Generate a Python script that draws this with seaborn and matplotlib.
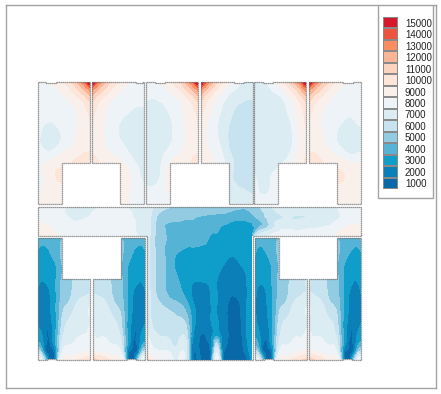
import numpy as np
import seaborn as sns
import matplotlib.pyplot as plt
import matplotlib.tri as mtri

from matplotlib.colors import ListedColormap
from matplotlib.patches import Polygon, Rectangle

# legend
LEGEND_VALUES = [1000, 2000, 3000, 4000, 5000, 6000, 7000, 8000, 9000, 10000, 11000, 12000, 13000, 14000, 15000]
LEGEND_COLORS = ['#0868a8', '#0a7fb8', '#0f9dca', '#55b4d6', '#92cbe2', '#c6e3ef', '#dcecf3', '#edf3f6',
                 '#faf0eb', '#fee5d9', '#fdd3bd', '#fcb497', '#fc8d62', '#ee5340', '#d7152b']

# all fields below are in thousands
# upper rooms: rows go down from the ceiling, columns go away from the hot corner
TOP_DIST = [0, 3, 7, 12, 20, 30, 40, 52]
TOP_DEPTH = [0, 3, 8, 15, 25, 40, 55, 70, 81, 95, 110, 122]

TOP_1 = [[16, 14.5, 13.2, 11.7, 10.4, 9.2, 8.5, 8.3],
         [14.5, 13.5, 12.2, 11.2, 9.9, 8.9, 8.4, 8.2],
         [12.8, 12, 11.2, 10.4, 9.4, 8.6, 8.1, 8],
         [11.2, 10.7, 10, 9.5, 8.8, 8.2, 7.9, 8],
         [10, 9.7, 9.2, 8.8, 8.2, 7.8, 7.7, 7.9],
         [9.5, 9.2, 8.9, 8.5, 8, 7.7, 7.5, 7.8],
         [9.3, 9.2, 9, 8.7, 8.1, 7.4, 6.8, 7.7],
         [9.5, 9.5, 9.4, 9.1, 8.7, 8.2, 7.6, 7.9],
         [10, 10, 10, 9.8, 9.4, 9.1, 8.7, 8.2],
         [9.3, 9.3, 9.3, 9.3, 9.2, 9.7, 8.9, 8.2],
         [9, 9, 9, 9, 9, 9, 8.8, 8.3],
         [8.8, 8.8, 8.8, 8.8, 8.8, 9, 8.8, 8.5]]
TOP_2 = [[16, 14.5, 13.2, 11.7, 10.4, 9.1, 8.4, 8.2],
         [14.5, 13.5, 12.2, 11.2, 9.9, 8.8, 8.3, 8.1],
         [12.8, 12, 11.2, 10.4, 9.3, 8.5, 8.1, 8],
         [11.2, 10.7, 10, 9.5, 8.7, 8.1, 7.9, 7.8],
         [10, 9.7, 9.2, 8.8, 8.1, 7.8, 7.6, 7.5],
         [9.6, 9.3, 8.9, 8.5, 8, 7.4, 7, 6.9],
         [9.3, 9.1, 8.9, 8.5, 8, 7.3, 6.7, 6.6],
         [9.4, 9.3, 9.1, 8.8, 8.4, 8, 7.2, 6.8],
         [9.8, 9.7, 9.5, 9.2, 8.9, 8.6, 7.8, 7.2],
         [9.3, 9.3, 9.3, 9.3, 9.5, 9.2, 8.3, 7.2],
         [9, 9, 9, 9, 9, 9, 8.3, 8],
         [8.7, 8.7, 8.7, 8.7, 8.8, 8.8, 8.4, 8.2]]
TOP_3 = [[16, 14.5, 13.2, 11.7, 10.4, 9.1, 8.5, 8.1],
         [14.5, 13.5, 12.2, 11.2, 9.9, 8.8, 8.2, 8],
         [12.8, 12, 11.2, 10.4, 9.3, 8.5, 8, 7.9],
         [11.2, 10.7, 10, 9.5, 8.6, 8, 7.7, 7.7],
         [10, 9.7, 9.2, 8.8, 8.1, 7.6, 7.2, 7.2],
         [9.6, 9.3, 9, 8.6, 8, 7.2, 6.8, 6.9],
         [9.3, 9.2, 8.9, 8.5, 7.9, 7.1, 6.7, 6.8],
         [9.4, 9.3, 9.1, 8.8, 8.3, 7.7, 6.9, 6.9],
         [9.9, 9.8, 9.5, 9.2, 8.9, 8.3, 7.1, 7],
         [9.2, 9.2, 9.2, 9.2, 9, 8.7, 7.3, 7.1],
         [8.8, 8.8, 8.8, 8.8, 8.8, 8.5, 8, 7.8],
         [8.5, 8.5, 8.5, 8.5, 8.5, 8.3, 8, 8]]
TOP_4 = [[16, 14.3, 13, 11.4, 9.9, 8.5, 7.6, 6.9],
         [14.5, 13.4, 12, 11, 9.4, 8.2, 7.4, 6.8],
         [12.8, 11.9, 11, 10, 8.9, 7.7, 7.2, 6.8],
         [11.1, 10.5, 9.8, 9.2, 8.1, 7.2, 6.8, 6.6],
         [10, 9.6, 9.1, 8.5, 7.6, 6.8, 6.3, 6.2],
         [9.2, 8.9, 8.5, 8, 7.2, 6.4, 5.7, 5.7],
         [9, 8.7, 8.3, 7.9, 7.2, 6.2, 5.6, 5.7],
         [9.2, 9, 8.7, 8.3, 7.6, 6.4, 5.8, 5.8],
         [9.5, 9.3, 9, 8.6, 7.9, 6.8, 6, 5.9],
         [8, 8, 8, 8, 7.6, 6.6, 6.2, 6],
         [7, 7, 7, 7, 7, 6.9, 6.6, 6.4],
         [6.8, 6.8, 6.8, 6.8, 6.8, 6.8, 6.8, 6.7]]
TOP_5 = [[16, 14.5, 13.2, 11.6, 10.1, 8.7, 7.6, 7.2],
         [14.5, 13.5, 12.1, 11, 9.5, 8.3, 7.3, 7],
         [12.8, 12, 11, 10.1, 8.9, 7.8, 7, 6.9],
         [11.2, 10.6, 9.9, 9.2, 8, 7.2, 6.9, 6.8],
         [10, 9.6, 9.1, 8.5, 7.5, 6.9, 6.8, 6.8],
         [9.6, 9.3, 8.8, 8, 7.1, 6.8, 6.7, 6.8],
         [9.3, 9, 8.5, 7.7, 6.9, 6.7, 6.7, 6.8],
         [9.3, 9.2, 8.8, 8, 7.1, 6.8, 6.7, 6.8],
         [9.5, 9.4, 9.1, 8.5, 7.7, 7.2, 6.9, 7.1],
         [8.5, 8.5, 8.5, 8.5, 8.2, 7.8, 7.3, 7.6],
         [8.2, 8.2, 8.2, 8.2, 8, 8, 7.4, 7.8],
         [8.2, 8.2, 8.2, 8.2, 8.2, 8.2, 8.2, 8]]
TOP_6 = [[16, 14.5, 13.2, 11.7, 10.4, 9, 8.4, 8.1],
         [14.5, 13.5, 12.2, 11.2, 9.9, 8.8, 8.3, 8],
         [12.8, 12, 11.2, 10.4, 9.3, 8.5, 8.1, 7.9],
         [11.2, 10.7, 10, 9.5, 8.7, 8.1, 7.9, 7.8],
         [10, 9.7, 9.2, 8.8, 8.2, 7.8, 7.6, 7.8],
         [9.5, 9.2, 8.9, 8.5, 8, 7.6, 7.4, 7.7],
         [9.3, 9.2, 9, 8.7, 8.1, 7.3, 6.8, 7],
         [9.5, 9.5, 9.4, 9.1, 8.7, 8, 7.3, 7.5],
         [9.9, 9.9, 9.8, 9.6, 9.3, 9, 8.6, 8.6],
         [9.3, 9.3, 9.3, 9.3, 9.2, 9.7, 9.1, 8.9],
         [9, 9, 9, 9, 9, 9.1, 9, 9],
         [9.2, 9.2, 9.2, 9.2, 9.2, 9.2, 9.2, 9.2]]

# lower rooms: columns go away from the outer wall, rows go down the page
LOW_DIST = [0, 4, 8, 12, 16, 20, 24, 30, 37, 44, 52]
LOW_Y = [238, 250, 265, 279, 290, 305, 320, 335, 345, 352, 356, 360]

LOW_A = [[4.4, 4, 4, 4, 4, 4.2, 4.5, 5, 5, 5, 5],
         [3.4, 3.2, 3.3, 3.6, 4, 4.2, 4.8, 5, 5, 5, 5],
         [3, 2.8, 2.8, 3, 3.3, 3.8, 4.5, 5, 5, 5, 5],
         [2.8, 2.6, 2.7, 2.9, 3.2, 3.9, 4.6, 5, 5.7, 6.1, 6.6],
         [2.4, 2, 2.1, 2.6, 3.2, 3.9, 4.7, 5.1, 5.8, 6.2, 6.5],
         [2.2, 1.7, 1.8, 2.4, 3.1, 4, 5, 5.6, 6.4, 7, 7.5],
         [2.3, 1.7, 1.7, 2.2, 3, 4.1, 5.6, 6.5, 6.9, 7.2, 7.5],
         [3, 2.5, 1.6, 1.7, 3, 4.5, 6.2, 6.9, 7.2, 7.5, 7.8],
         [4, 3, 1.4, 1.4, 2.6, 4.6, 6.8, 7.5, 7.7, 7.9, 8],
         [6, 4.5, 1.6, 1.2, 1.5, 4.5, 7.5, 8, 8.1, 8.3, 8.6],
         [7.5, 6, 3, 1, 1.2, 5, 8, 8.5, 8.6, 9, 9.6],
         [8.2, 7.5, 4, 1, 1, 6, 8.6, 9, 9.3, 9.8, 10.5]]
LOW_B = [[4.5, 4.1, 4, 4, 4.1, 4.3, 4.6, 5, 5, 5, 5],
         [3.5, 3.2, 3.3, 3.6, 4, 4.3, 4.8, 5, 5, 5, 5],
         [3, 2.8, 2.8, 3, 3.4, 3.9, 4.6, 5, 5, 5, 5],
         [2.8, 2.6, 2.7, 2.9, 3.3, 4, 4.7, 5, 5.7, 6.1, 6.6],
         [2.5, 2.1, 2.2, 2.6, 3.2, 4, 4.8, 5.2, 5.8, 6.2, 6.5],
         [2.2, 1.7, 1.8, 2.4, 3.1, 4.1, 5, 5.6, 6.4, 7, 7.4],
         [2.3, 1.7, 1.7, 2.2, 3, 4.2, 5.6, 6.5, 6.9, 7.1, 7.4],
         [3, 2.5, 1.6, 1.7, 3, 4.5, 6.2, 6.9, 7.2, 7.4, 7.7],
         [4, 3, 1.4, 1.4, 2.6, 4.6, 6.8, 7.5, 7.7, 7.8, 8],
         [6, 4.5, 1.6, 1.2, 1.5, 4.5, 7.5, 8, 8.2, 8.5, 9],
         [7.5, 6, 3, 1, 1.2, 5, 8, 8.6, 8.9, 9.5, 10.2],
         [8.2, 7.5, 4, 1, 1, 6, 8.6, 9.2, 9.7, 10.3, 11]]
LOW_C = [[4.5, 4, 4, 4, 4.1, 4.3, 4.6, 5, 5, 5, 5],
         [3.7, 3.3, 3.4, 3.7, 4, 4.3, 4.8, 5, 5, 5, 5],
         [3.3, 2.9, 2.9, 3.1, 3.5, 4, 4.6, 5, 5, 5, 5],
         [3, 2.7, 2.7, 3, 3.4, 4, 4.7, 5, 5.7, 6.1, 6.6],
         [2.8, 2.3, 2.3, 2.7, 3.3, 4, 4.8, 5.2, 5.8, 6.2, 6.5],
         [2.6, 2, 2, 2.5, 3.2, 4.1, 5.1, 5.6, 6.4, 7, 7.4],
         [2.7, 2.2, 2, 2.3, 3.1, 4.2, 5.7, 6.5, 6.9, 7.1, 7.4],
         [3.3, 2.7, 1.8, 1.8, 3, 4.5, 6.2, 6.9, 7.2, 7.4, 7.7],
         [4.3, 3.2, 1.5, 1.4, 2.6, 4.6, 6.8, 7.5, 7.7, 7.8, 8],
         [6, 4.5, 1.7, 1.3, 1.5, 4.5, 7.5, 8, 8.2, 8.5, 8.9],
         [7.5, 6, 3, 1.1, 1.2, 5, 8, 8.6, 8.9, 9.4, 10],
         [8.2, 7.5, 4, 1, 1, 6, 8.6, 9.2, 9.6, 10.2, 10.8]]
LOW_D = [[4.6, 4.2, 4, 4, 4.1, 4.3, 4.6, 5, 5, 5, 5],
         [3.6, 3.3, 3.4, 3.7, 4, 4.3, 4.8, 5, 5, 5, 5],
         [3.1, 2.8, 2.8, 3, 3.4, 3.9, 4.6, 5, 5, 5, 5],
         [2.9, 2.6, 2.6, 2.9, 3.3, 4, 4.7, 5, 5.7, 6.1, 6.6],
         [2.6, 2.1, 2.2, 2.6, 3.2, 4, 4.8, 5.2, 5.8, 6.2, 6.5],
         [2.3, 1.8, 1.8, 2.4, 3.1, 4.1, 5.1, 5.6, 6.4, 7, 7.4],
         [2.4, 1.8, 1.7, 2.2, 3, 4.2, 5.7, 6.5, 6.9, 7.1, 7.4],
         [3, 2.5, 1.6, 1.7, 3, 4.5, 6.2, 6.9, 7.2, 7.4, 7.7],
         [4, 3, 1.4, 1.4, 2.6, 4.6, 6.8, 7.5, 7.7, 7.8, 8],
         [6, 4.5, 1.6, 1.2, 1.5, 4.5, 7.5, 8, 8.2, 8.5, 9],
         [7.5, 6, 3, 1, 1.2, 5, 8, 8.6, 8.9, 9.5, 10.2],
         [8.2, 7.5, 4, 1, 1, 6, 8.6, 9.2, 9.7, 10.3, 11]]

# corridor and the big central room
WING_Y = [207, 212, 218, 225, 236]
WING_LEFT_X = [38, 50, 60, 72, 85, 95, 110, 125, 135, 147]
WING_LEFT = [[8, 8, 7.9, 7.2, 7.2, 7.3, 7.8, 7.6, 7.2, 7],
             [8, 8, 7.8, 7.1, 7.1, 7.6, 7.9, 7.8, 7.3, 6.8],
             [8.2, 8, 8, 7.3, 7.4, 7.9, 8, 8, 7.4, 6.9],
             [8.8, 8.4, 8, 7.8, 7.9, 8, 8, 8, 7.5, 7],
             [9.5, 9.1, 8.4, 8, 8, 8, 8, 7.9, 7.6, 7]]
WING_RIGHT_X = [252, 255, 262, 275, 290, 310, 330, 345, 361]
WING_RIGHT = [[4.8, 5.2, 5.6, 6.8, 7, 7, 7.2, 7.8, 8],
              [4.6, 4.9, 5.4, 6.4, 6.7, 6.7, 7, 7.8, 8],
              [3.9, 4.3, 5, 6.2, 6.5, 6.6, 7, 7.8, 8],
              [3.4, 3.8, 4.5, 6.5, 7, 7.2, 7.5, 8.3, 8.6],
              [3.2, 6, 6.8, 7.8, 8, 8.1, 8.2, 9, 9.5]]

HALL_X = [147, 150, 155, 162, 170, 178, 188, 191, 195, 203, 210, 214, 217, 220, 224, 232, 240, 246, 252]
HALL_Y = [207, 212, 218, 225, 236, 247, 260, 275, 290, 305, 315, 325, 335, 343, 350, 356, 360]
HALL = [[7, 6.8, 6.3, 5.8, 5.5, 5.3, 5.2, 5.1, 5, 5, 5, 4.9, 4.9, 4.8, 4.8, 4.7, 4.6, 4.6, 4.8],
        [6.8, 6.7, 6, 5.4, 5.2, 5, 4.9, 4.9, 4.8, 4.8, 4.7, 4.7, 4.6, 4.6, 4.6, 4.4, 4.3, 4.3, 4.6],
        [6.9, 6.6, 5.7, 5, 4.8, 4.7, 4.6, 4.6, 4.5, 4.3, 4.2, 4.1, 4.1, 4, 4, 3.8, 3.7, 3.7, 3.9],
        [7, 6.5, 5.6, 4.7, 4.3, 4.3, 4.2, 4.2, 4.1, 4, 3.8, 3.7, 3.7, 3.6, 3.5, 3.3, 3.2, 3.3, 3.4],
        [7, 6.5, 5.5, 5, 4, 4, 4, 4, 4, 3.8, 3.5, 3.4, 3.4, 3.2, 3, 2.9, 2.9, 2.9, 3.2],
        [7, 6.3, 5.5, 4.8, 4, 3.8, 3.5, 3.5, 3.5, 3.4, 3.2, 3, 3, 2.9, 2.8, 2.7, 2.7, 2.8, 3.2],
        [7, 6.3, 5.5, 4.8, 4, 3.2, 3, 3, 3, 3, 3, 3, 3, 2.8, 2.6, 2.4, 2.6, 2.8, 3],
        [7, 6.3, 5.6, 4.8, 4.1, 3.4, 2.9, 2.8, 2.8, 2.8, 2.8, 2.7, 2.6, 2.4, 2.2, 2, 2.2, 2.5, 3],
        [7, 6.5, 5.6, 4.8, 4.2, 3.8, 2.8, 2.5, 2.2, 2.2, 2.5, 2.7, 2.5, 2.3, 2, 1.7, 2, 2.4, 3],
        [7, 6.6, 6, 5.5, 5, 4.7, 3.6, 3, 2.4, 2.1, 2.4, 2.7, 2.5, 2.3, 1.9, 1.2, 1.5, 2.4, 3],
        [7.2, 6.6, 6.2, 6, 5.8, 5.4, 4.3, 3.5, 2.6, 2.1, 2.4, 2.7, 2.5, 2.2, 1.8, 1.1, 1.4, 2.4, 3],
        [7.5, 6.8, 6.3, 6.2, 6, 5.9, 4.9, 3.6, 2.5, 2, 2.3, 2.7, 2.7, 2.3, 1.9, 1, 1.2, 2.4, 3],
        [7.8, 7.2, 6.7, 6.4, 6.2, 6.1, 5.3, 3.5, 2.1, 1.4, 2.1, 2.8, 3.2, 2.6, 1.9, 1, 1.1, 2.4, 3],
        [8, 7.6, 7.2, 6.9, 6.7, 6.5, 5.6, 3.2, 1.7, 1.2, 1.8, 4, 5.5, 3.5, 1.9, 0.9, 1, 2.2, 3],
        [8.3, 8, 7.6, 7.4, 7.2, 6.9, 5.6, 2.9, 1.5, 1.1, 1.5, 5, 7, 4.5, 1.6, 0.9, 1, 2, 3],
        [9.5, 8.8, 8.3, 8, 7.8, 7.3, 5.6, 2.7, 1.4, 1, 1.4, 6, 7.8, 5.5, 1.3, 0.9, 0.9, 1.5, 3],
        [10, 9.3, 8.6, 8.2, 8, 7.5, 5.6, 2.5, 1.3, 1, 1.4, 6.5, 8.3, 6, 1.2, 0.9, 0.9, 1.2, 3]]

W, H = 441, 394
FRAME = '#a3a3a3'
WALL = '#7a7a7a'
WALL_STYLE = dict(closed=True, fill=False, edgecolor=WALL, lw=0.9, linestyle=(0, (1, 0.6)), zorder=5)


def contour_clipped(ax, xs, ys, values, patch):
    # smooth contour lines through the library's own triangle refiner
    X, Y = np.meshgrid(xs, ys)
    tri = mtri.Triangulation(X.ravel(), Y.ravel())
    refiner = mtri.UniformTriRefiner(tri)
    tri_fine, z_fine = refiner.refine_field(np.array(values, dtype=float).ravel(), subdiv=3)
    cs = ax.tricontourf(tri_fine, z_fine, levels=levels, colors=LEGEND_COLORS)
    cs.set_clip_path(patch)


def top_room(ax, values, corner, step, door):
    # step is +1 when the room runs right from the hot corner, -1 when it runs left
    far = corner + step * 52
    notch = corner + step * 28
    if step > 0:
        xs = corner + np.array(TOP_DIST)
        z = np.array(values)
    else:
        xs = corner - np.array(TOP_DIST[::-1])
        z = np.array(values)[:, ::-1]
        door = door[::-1]
    ys = 82 + np.array(TOP_DEPTH)
    outline = [(corner, 82), (door[0], 82), (door[0], 83), (door[1], 83), (door[1], 82), (far, 82),
               (far, 204), (notch, 204), (notch, 163), (corner, 163)]
    patch = Polygon(outline, **WALL_STYLE)
    ax.add_patch(patch)
    contour_clipped(ax, xs, ys, z, patch)


def low_room(ax, values, wall, step):
    far = wall + step * 52
    notch = wall + step * 24
    door_a, door_b = wall + step * 9, wall + step * 18
    if step > 0:
        xs = wall + np.array(LOW_DIST)
        z = np.array(values)
    else:
        xs = wall - np.array(LOW_DIST[::-1])
        z = np.array(values)[:, ::-1]
    outline = [(wall, 238), (notch, 238), (notch, 279), (far, 279), (far, 360), (door_b, 360),
               (door_b, 359), (door_a, 359), (door_a, 360), (wall, 360)]
    patch = Polygon(outline, **WALL_STYLE)
    ax.add_patch(patch)
    contour_clipped(ax, xs, LOW_Y, z, patch)


sns.set_theme(style="white")
plt.rcParams['font.family'] = ['Liberation Sans', 'DejaVu Sans']

levels = [-99] + [v / 1000 + 0.5 for v in LEGEND_VALUES[:-1]] + [99]

fig = plt.figure(figsize=(W / 100, H / 100), dpi=100)
ax = fig.add_axes([6 / W, 1 - 388 / H, 430 / W, 383 / H])
ax.set_xlim(6, 436)
ax.set_ylim(388, 5)
ax.set_xticks([])
ax.set_yticks([])
for spine in ax.spines.values():
    spine.set_color(FRAME)
    spine.set_linewidth(1)

top_room(ax, TOP_1, 90, -1, (46, 56))
top_room(ax, TOP_2, 92, 1, (136, 143))
top_room(ax, TOP_3, 198, -1, (155, 165))
top_room(ax, TOP_4, 201, 1, (234, 244))
top_room(ax, TOP_5, 306, -1, (263, 273))
top_room(ax, TOP_6, 309, 1, (343, 353))

low_room(ax, LOW_A, 38, 1)
low_room(ax, LOW_B, 145, -1)
low_room(ax, LOW_C, 255, 1)
low_room(ax, LOW_D, 361, -1)

# corridor wings and hall share one T shaped outline
t_shape = [(38, 207), (361, 207), (361, 236), (253, 236), (253, 360), (147, 360), (147, 236), (38, 236)]
t_patch = Polygon(t_shape, **WALL_STYLE)
ax.add_patch(t_patch)
contour_clipped(ax, WING_LEFT_X, WING_Y, WING_LEFT, t_patch)
contour_clipped(ax, WING_RIGHT_X, WING_Y, WING_RIGHT, t_patch)
contour_clipped(ax, HALL_X, HALL_Y, HALL, t_patch)

# legend box, swatches come from a heatmap
ax.add_patch(Rectangle((378, 5), 55, 193, facecolor='white', edgecolor=FRAME, lw=1, zorder=6))
cax = fig.add_axes([383 / W, 1 - 189 / H, 15 / W, 172 / H], zorder=10)
swatches = np.array(LEGEND_VALUES[::-1]).reshape(-1, 1)
sns.heatmap(swatches, ax=cax, cmap=ListedColormap(LEGEND_COLORS), cbar=False,
            xticklabels=False, yticklabels=[str(v) for v in LEGEND_VALUES[::-1]],
            linewidths=0.3, linecolor='#8a8a8a')
cax.yaxis.tick_right()
cax.tick_params(axis='y', length=0, pad=5, labelsize=7, labelrotation=0, labelcolor='#222222')

fig.savefig('out.png', dpi=100)
